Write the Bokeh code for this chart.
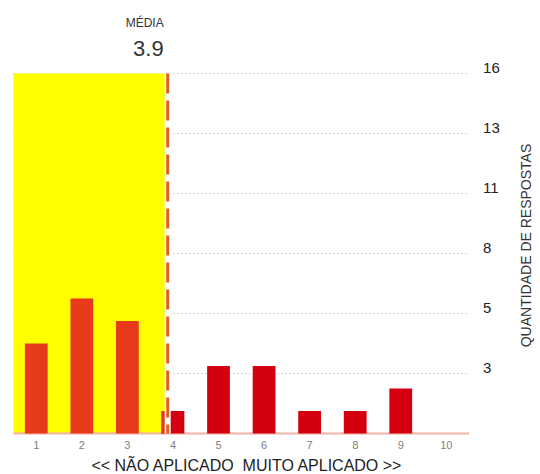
from bokeh.plotting import figure
from bokeh.models import Range1d, Label
from bokeh.core.properties import value
from bokeh.embed import file_html
from bokeh.resources import INLINE

# ---- data ----
categories = [1, 2, 3, 4, 5, 6, 7, 8, 9, 10]
counts = [4, 6, 5, 1, 3, 3, 1, 1, 2, 0]
x_tick_labels = ["1", "2", "3", "4", "5", "6", "7", "8", "9", "10"]
y_max = 16
y_tick_labels = ["3", "5", "8", "11", "13", "16"]
x_title = "<< NÃO APLICADO\u00a0 MUITO APLICADO >>"
y_title = "QUANTIDADE DE RESPOSTAS"
mean_title = "MÉDIA"

mean = sum(c * n for c, n in zip(categories, counts)) / sum(counts)
y_ticks = [y_max * k / len(y_tick_labels) for k in range(1, len(y_tick_labels) + 1)]

# ---- style ----
FONT = "Liberation Sans"
RED = "#D5000F"
ORANGE = "#E8391B"
YELLOW = "#FFFF00"
BAR_W = 0.5
W, H = 540, 474
PX_X = 45.56       # pixels per category unit
PX_Y = 22.5        # pixels per count unit
LEFT_PAD, BOTTOM_PAD = 13, 41

x_lo, x_hi = categories[0] - 0.5, categories[-1] + 0.5
x_start = x_lo - LEFT_PAD / PX_X
x_end = x_start + W / PX_X
y_start = -BOTTOM_PAD / PX_Y
y_end = y_start + H / PX_Y


def dy(px):
    return px / PX_Y


p = figure(width=W, height=H, output_backend="svg", toolbar_location=None,
           x_range=Range1d(x_start, x_end), y_range=Range1d(y_start, y_end),
           x_axis_location=None, y_axis_location=None,
           min_border=0)
p.outline_line_color = None
p.background_fill_color = "white"
p.border_fill_color = "white"
p.grid.visible = False

n = len(y_ticks)
# dotted horizontal grid lines
p.segment(x0=[x_lo] * n, y0=y_ticks, x1=[x_hi] * n, y1=y_ticks,
          line_color="#b0b0b0", line_dash="1 3", line_width=1)

# yellow region below mean
p.quad(left=[x_lo], right=[mean], bottom=[0], top=[y_max],
       fill_color=YELLOW, line_color=None)

# baseline
p.segment(x0=[x_lo], y0=[0], x1=[x_hi], y1=[0], line_color="#F2B2A6", line_width=2)

# bars
colors = [ORANGE if c + BAR_W / 2 <= mean else RED for c in categories]
p.vbar(x=categories, top=counts, width=BAR_W, fill_color=colors, line_color=None)
# part of bars overlapping the yellow region
part_l, part_r, part_t = [], [], []
for c, v in zip(categories, counts):
    if c - BAR_W / 2 < mean < c + BAR_W / 2 and v > 0:
        part_l.append(c - BAR_W / 2)
        part_r.append(mean)
        part_t.append(v)
if part_l:
    p.quad(left=part_l, right=part_r, bottom=[0] * len(part_l), top=part_t,
           fill_color=ORANGE, line_color=None)

# mean line
p.segment(x0=[mean], y0=[y_max], x1=[mean], y1=[0], line_color="white", line_width=6)
p.segment(x0=[mean], y0=[y_max], x1=[mean], y1=[0], line_color="#E0601E",
          line_width=3, line_dash="20 7")

# mean labels
p.add_layout(Label(x=mean, y=y_max + dy(51), text=mean_title, text_align="right", x_offset=-4,
                   text_baseline="middle", text_font=FONT, text_font_size="12px",
                   text_color="#333333"))
p.add_layout(Label(x=mean, y=y_max + dy(25.5), text=f"{mean:.1f}", text_align="right",
                   x_offset=-4, text_baseline="middle", text_font=FONT,
                   text_font_size="22px", text_color="#333333"))

# x tick labels
p.text(x=categories, y=[-dy(11)] * len(categories), text=x_tick_labels,
       text_align="center", text_baseline="middle", text_font=value(FONT),
       text_font_size="11px", text_color="#808080")

# x title
p.add_layout(Label(x=(x_lo + x_hi) / 2, y=-dy(32), x_offset=6, text=x_title,
                   text_align="center", text_baseline="middle", text_font=FONT,
                   text_font_size="16px", text_color="#222222"))

# y tick labels (right side)
p.text(x=[x_hi] * n, y=[t + dy(6) for t in y_ticks], x_offset=14, text=y_tick_labels,
       text_align="left", text_baseline="middle", text_font=value(FONT),
       text_font_size="15px", text_color="#222222")

# y title (right, reading bottom to top)
p.add_layout(Label(x=x_hi, y=dy(188), x_offset=57, text=y_title, angle=90, angle_units="deg",
                   text_align="center", text_baseline="middle", text_font=FONT,
                   text_font_size="14px", text_color="#333333"))

open("out.html", "w").write(file_html(p, INLINE))
